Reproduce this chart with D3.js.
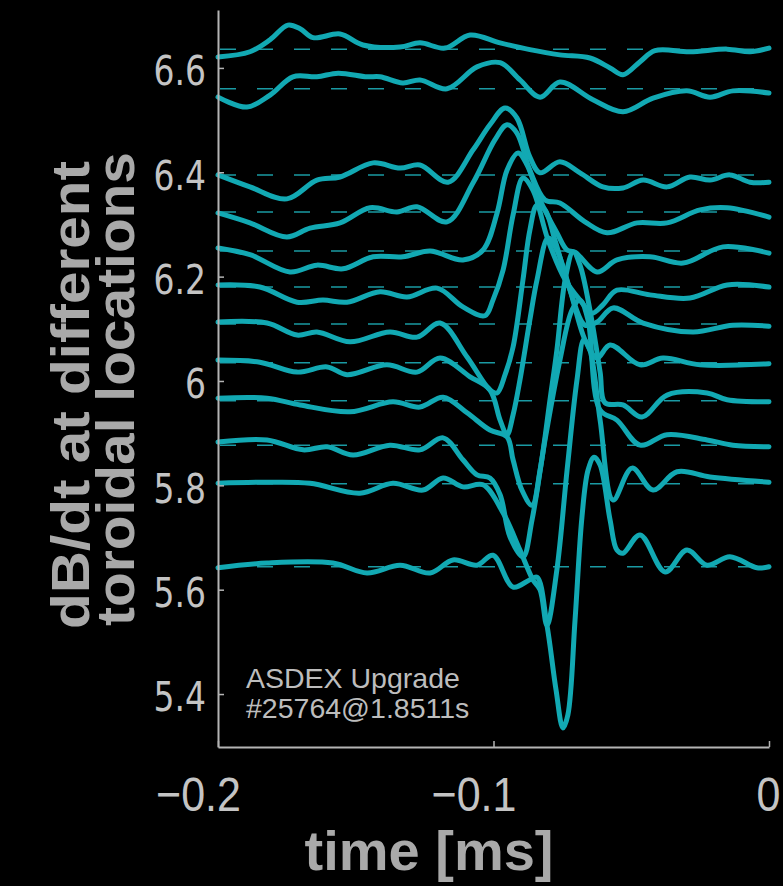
<!DOCTYPE html>
<html><head><meta charset="utf-8">
<script src="https://cdn.jsdelivr.net/npm/d3@7"></script>
<style>html,body{margin:0;padding:0;background:#000;} svg{display:block;}</style>
</head><body>
<script>
// ---- data (time in ms, dB/dt offset traces) ----
const xTicks = [-0.2, -0.1, 0];
const yTicks = [5.4, 5.6, 5.8, 6, 6.2, 6.4, 6.6];
const baselines = [6.636, 6.560, 6.395, 6.324, 6.249, 6.180, 6.109, 6.035, 5.962, 5.877, 5.803, 5.644];

const trace1 = [[-0.2,6.621],[-0.1884,6.631],[-0.1811,6.654],[-0.1746,6.682],[-0.1702,6.675],[-0.1655,6.658],[-0.1557,6.665],[-0.1474,6.644],[-0.1339,6.640],[-0.1267,6.648],[-0.1176,6.638],[-0.1085,6.663],[-0.0976,6.648],[-0.0868,6.635],[-0.0759,6.625],[-0.0650,6.619],[-0.0577,6.600],[-0.0530,6.587],[-0.0468,6.612],[-0.0414,6.633],[-0.0287,6.631],[-0.0152,6.636],[-0.0069,6.631],[0,6.638]];
const trace2 = [[-0.2,6.544],[-0.1895,6.525],[-0.1811,6.548],[-0.1728,6.583],[-0.1641,6.583],[-0.1564,6.590],[-0.1459,6.583],[-0.1412,6.583],[-0.1329,6.571],[-0.1267,6.577],[-0.1169,6.560],[-0.1060,6.602],[-0.0976,6.610],[-0.0904,6.577],[-0.0831,6.544],[-0.0759,6.573],[-0.0639,6.539],[-0.0530,6.516],[-0.0421,6.542],[-0.0298,6.556],[-0.0214,6.544],[-0.0131,6.556],[0,6.552]];
const trace3 = [[-0.2,6.395],[-0.1884,6.372],[-0.1750,6.349],[-0.1641,6.385],[-0.1557,6.391],[-0.1437,6.418],[-0.1339,6.408],[-0.1267,6.414],[-0.1165,6.381],[-0.1074,6.443],[-0.1013,6.491],[-0.0958,6.523],[-0.0915,6.504],[-0.0868,6.429],[-0.0831,6.399],[-0.0759,6.420],[-0.0686,6.399],[-0.0603,6.372],[-0.0530,6.370],[-0.0457,6.385],[-0.0370,6.372],[-0.0287,6.391],[-0.0214,6.385],[-0.0142,6.395],[-0.0069,6.381],[0,6.381]];
const trace4 = [[-0.2,6.322],[-0.1884,6.303],[-0.1750,6.276],[-0.1666,6.293],[-0.1557,6.303],[-0.1448,6.332],[-0.1350,6.324],[-0.1278,6.334],[-0.1169,6.305],[-0.1074,6.380],[-0.0995,6.462],[-0.0951,6.491],[-0.0915,6.475],[-0.0868,6.404],[-0.0813,6.347],[-0.0759,6.341],[-0.0668,6.305],[-0.0588,6.284],[-0.0479,6.303],[-0.0370,6.303],[-0.0250,6.328],[-0.0152,6.332],[0,6.314]];
const trace5 = [[-0.2,6.255],[-0.1884,6.242],[-0.1739,6.209],[-0.1641,6.222],[-0.1546,6.215],[-0.1437,6.238],[-0.1329,6.238],[-0.1230,6.249],[-0.1111,6.232],[-0.1038,6.251],[-0.0987,6.322],[-0.0951,6.404],[-0.0911,6.437],[-0.0878,6.414],[-0.0831,6.347],[-0.0770,6.284],[-0.0733,6.251],[-0.0704,6.247],[-0.0624,6.209],[-0.0552,6.232],[-0.0432,6.238],[-0.0312,6.226],[-0.0167,6.257],[0,6.245]];
const trace6 = [[-0.2,6.184],[-0.1848,6.180],[-0.1713,6.151],[-0.1619,6.155],[-0.1532,6.151],[-0.1412,6.171],[-0.1314,6.161],[-0.1205,6.178],[-0.1111,6.142],[-0.1031,6.125],[-0.1002,6.155],[-0.0965,6.213],[-0.0929,6.318],[-0.0893,6.389],[-0.0857,6.366],[-0.0802,6.270],[-0.0740,6.194],[-0.0686,6.155],[-0.0642,6.130],[-0.0603,6.146],[-0.0552,6.174],[-0.0432,6.165],[-0.0287,6.159],[-0.0152,6.184],[0,6.180]];
const trace7 = [[-0.2,6.113],[-0.1822,6.111],[-0.1713,6.088],[-0.1641,6.094],[-0.1521,6.075],[-0.1376,6.094],[-0.1278,6.084],[-0.1194,6.111],[-0.1096,6.046],[-0.1013,5.983],[-0.0987,5.977],[-0.0958,6.012],[-0.0929,6.065],[-0.0893,6.194],[-0.0868,6.289],[-0.0842,6.337],[-0.0813,6.328],[-0.0777,6.270],[-0.0722,6.174],[-0.0668,6.107],[-0.0624,6.113],[-0.0566,6.140],[-0.0457,6.111],[-0.0276,6.094],[-0.0131,6.107],[0,6.105]];
const trace8 = [[-0.2,6.040],[-0.1848,6.036],[-0.1713,6.017],[-0.1604,6.027],[-0.1532,6.012],[-0.1387,6.031],[-0.1278,6.017],[-0.1194,6.044],[-0.1085,6.008],[-0.1013,5.983],[-0.0976,5.925],[-0.0951,5.897],[-0.0929,5.935],[-0.0904,6.002],[-0.0868,6.117],[-0.0842,6.194],[-0.0802,6.274],[-0.0770,6.251],[-0.0722,6.174],[-0.0668,6.079],[-0.0624,6.044],[-0.0577,6.069],[-0.0468,6.031],[-0.0385,6.044],[-0.0250,6.031],[0,6.033]];
const trace9 = [[-0.2,5.967],[-0.1822,5.967],[-0.1702,5.954],[-0.1521,5.941],[-0.1365,5.960],[-0.1267,5.950],[-0.1183,5.969],[-0.1096,5.939],[-0.1013,5.906],[-0.0951,5.893],[-0.0929,5.849],[-0.0897,5.791],[-0.0860,5.762],[-0.0831,5.829],[-0.0795,5.964],[-0.0770,6.059],[-0.0740,6.194],[-0.0711,6.247],[-0.0686,6.222],[-0.0650,6.136],[-0.0613,6.017],[-0.0595,5.958],[-0.0530,5.954],[-0.0461,5.931],[-0.0370,5.973],[-0.0225,5.977],[-0.0152,5.964],[0,5.960]];
const trace10 = [[-0.2,5.883],[-0.1822,5.887],[-0.1691,5.868],[-0.1604,5.874],[-0.1510,5.858],[-0.1376,5.877],[-0.1267,5.868],[-0.1183,5.891],[-0.1111,5.849],[-0.1060,5.820],[-0.1013,5.814],[-0.0976,5.782],[-0.0940,5.701],[-0.0893,5.663],[-0.0860,5.734],[-0.0813,5.887],[-0.0759,6.040],[-0.0715,6.136],[-0.0686,6.155],[-0.0657,6.117],[-0.0613,5.944],[-0.0552,5.925],[-0.0468,5.877],[-0.0370,5.897],[-0.0225,5.887],[-0.0131,5.877],[0,5.874]];
const trace11 = [[-0.2,5.804],[-0.1822,5.806],[-0.1666,5.804],[-0.1485,5.785],[-0.1365,5.804],[-0.1256,5.791],[-0.1183,5.814],[-0.1111,5.797],[-0.1038,5.801],[-0.0965,5.747],[-0.0904,5.676],[-0.0857,5.619],[-0.0831,5.600],[-0.0806,5.532],[-0.0770,5.638],[-0.0733,5.829],[-0.0697,6.002],[-0.0672,6.079],[-0.0650,6.059],[-0.0613,5.925],[-0.0566,5.772],[-0.0497,5.833],[-0.0421,5.791],[-0.0334,5.826],[-0.0214,5.816],[0,5.806]];
const trace12 = [[-0.2,5.642],[-0.1822,5.651],[-0.1583,5.651],[-0.1459,5.632],[-0.1339,5.647],[-0.1230,5.632],[-0.1147,5.657],[-0.1060,5.647],[-0.1002,5.666],[-0.0929,5.605],[-0.0868,5.619],[-0.0842,5.624],[-0.0806,5.532],[-0.0773,5.408],[-0.0748,5.335],[-0.0730,5.360],[-0.0704,5.542],[-0.0679,5.739],[-0.0657,5.829],[-0.0635,5.854],[-0.0613,5.839],[-0.0577,5.734],[-0.0552,5.676],[-0.0530,5.670],[-0.0468,5.705],[-0.0377,5.634],[-0.0298,5.676],[-0.0225,5.647],[-0.0142,5.663],[-0.0044,5.642],[0,5.644]];
const traces = [trace1, trace2, trace3, trace4, trace5, trace6, trace7, trace8, trace9, trace10, trace11, trace12];

const annotation = ["ASDEX Upgrade", "#25764@1.8511s"];
const yTitle = ["dB/dt at different", "toroidal locations"];
const xTitle = "time [ms]";

// ---- drawing ----
const W = 783, H = 886;
const svg = d3.select("body").append("svg").attr("width", W).attr("height", H)
  .style("background", "#000");

const x = d3.scaleLinear().domain([-0.2, 0]).range([218, 769]);
const y = d3.scaleLinear().domain([5.2985, 6.711]).range([747, 10]);

const teal = "#12a9b3";

// dashed baselines
svg.append("g").selectAll("line").data(baselines).join("line")
  .attr("x1", x(-0.2) + 2).attr("x2", x(0))
  .attr("y1", d => y(d)).attr("y2", d => y(d))
  .attr("stroke", "#1a9aa3").attr("stroke-width", 1.5)
  .attr("stroke-dasharray", "16,21");

// traces
const line = d3.line().x(d => x(d[0])).y(d => y(d[1])).curve(d3.curveCatmullRom.alpha(0.5));
svg.append("g").selectAll("path").data(traces).join("path")
  .attr("d", line).attr("fill", "none").attr("stroke", teal)
  .attr("stroke-width", 5).attr("stroke-linejoin", "round").attr("stroke-linecap", "round");

// axes
const axisColor = "#b4b4b4";
const gy = svg.append("g").attr("transform", `translate(${x(-0.2)},0)`)
  .call(d3.axisLeft(y).tickValues(yTicks).tickSize(-6).tickSizeOuter(0).tickPadding(12)
    .tickFormat(d => d === 6 ? "6" : d3.format(".1f")(d)));
gy.select(".domain").attr("stroke", axisColor).attr("stroke-width", 2);
gy.selectAll(".tick line").attr("stroke", axisColor).attr("stroke-width", 1.5);
gy.selectAll(".tick text").attr("fill", "#c4c4c4")
  .attr("dy", "0.42em").attr("transform", "scale(1,1.22)")
  .style("font-family", "'DejaVu Sans', sans-serif").style("font-size", "33px");

const gx = svg.append("g").attr("transform", `translate(0,${y(5.2985)})`)
  .call(d3.axisBottom(x).tickValues(xTicks).tickSize(-6).tickSizeOuter(0)
    .tickFormat(d => d === 0 ? "0" : d3.format(".1f")(d)));
gx.select(".domain").attr("stroke", axisColor).attr("stroke-width", 2);
gx.selectAll(".tick line").attr("stroke", axisColor).attr("stroke-width", 1.5);
gx.selectAll(".tick text").attr("fill", "#c4c4c4")
  .attr("y", 57).attr("dy", null).attr("dx", d => d < 0 ? -20 : -1)
  .attr("transform", "scale(1,1.13)")
  .style("font-family", "'Liberation Sans', Arial, sans-serif").style("font-size", "43px");

// annotation
svg.append("g").selectAll("text").data(annotation).join("text")
  .attr("x", 246).attr("y", (d, i) => 688 + i * 30)
  .attr("fill", "#bdbdbd")
  .style("font-family", "'Liberation Sans', Arial, sans-serif").style("font-size", "28.5px")
  .text(d => d);

// y title
svg.append("g").selectAll("text").data(yTitle).join("text")
  .attr("transform", (d, i) => `translate(${89 + i * 45},${395 - i * 6}) rotate(-90)`)
  .attr("text-anchor", "middle").attr("fill", "#a9a9a9")
  .attr("textLength", (d, i) => i === 0 ? 468 : 474).attr("lengthAdjust", "spacingAndGlyphs")
  .style("font-family", "'Liberation Sans', Arial, sans-serif").style("font-weight", "bold")
  .style("font-size", "54px")
  .text(d => d);

// x title
svg.append("text").attr("x", 429).attr("y", 870).attr("text-anchor", "middle")
  .attr("fill", "#a9a9a9")
  .style("font-family", "'Liberation Sans', Arial, sans-serif").style("font-weight", "bold")
  .style("font-size", "56px")
  .text(xTitle);
</script>
</body></html>
